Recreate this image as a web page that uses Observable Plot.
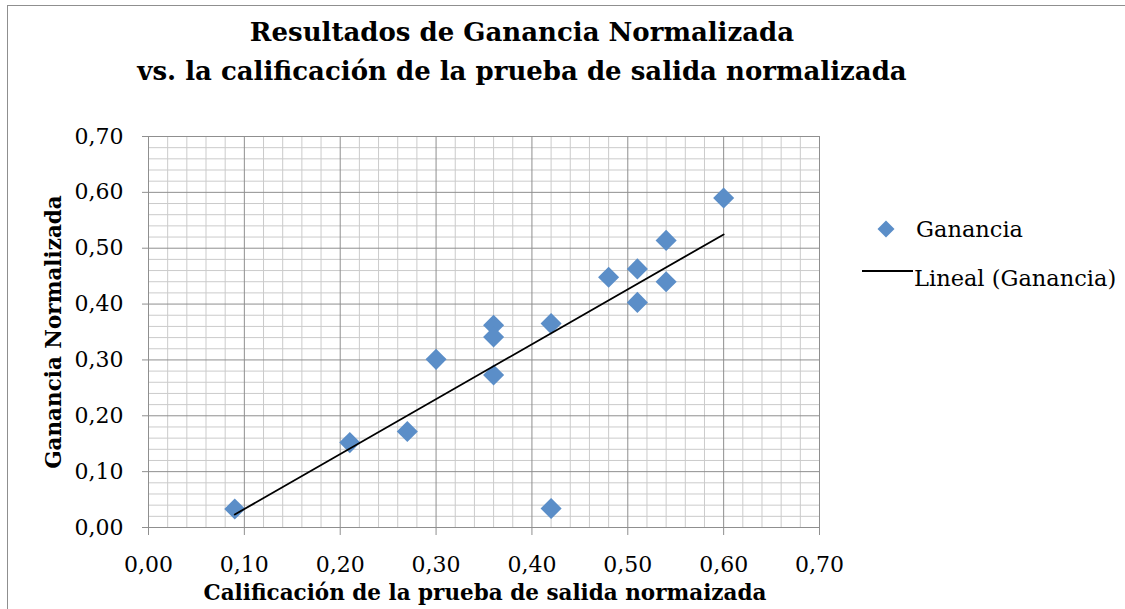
<!DOCTYPE html>
<html>
<head>
<meta charset="utf-8">
<script src="https://cdn.jsdelivr.net/npm/d3@7"></script>
<script src="https://cdn.jsdelivr.net/npm/@observablehq/plot@0.6"></script>
<style>
  body { margin: 0; background: #fff; }
  #chart { position: relative; width: 1125px; height: 609px; overflow: hidden; font-family: "DejaVu Serif", serif; color: #000; }
  #frame { position: absolute; left: 7px; top: 5px; width: 1300px; height: 800px; border-left: 1.5px solid #8f8f8f; border-top: 1.5px solid #8f8f8f; }
  #plot { position: absolute; left: 0; top: 0; }
  #title { position: absolute; left: 0; top: 13px; width: 1044px; text-align: center; font-weight: bold; font-size: 26px; line-height: 39px; }
  #ytitle { position: absolute; left: 53px; top: 332px; transform: translate(-50%, -50%) rotate(-90deg); white-space: nowrap; font-weight: bold; font-size: 21.5px; }
  #xtitle { position: absolute; left: 0; width: 970px; top: 581px; text-align: center; font-weight: bold; font-size: 21.5px; line-height: 24px; white-space: nowrap; }
  .leg { position: absolute; font-size: 22.5px; white-space: nowrap; line-height: 24px; }
</style>
</head>
<body>
<div id="chart">
  <div id="frame"></div>
  <div id="plot"></div>
  <div id="title">Resultados de Ganancia Normalizada<br>vs. la calificación de la prueba de salida normalizada</div>
  <div id="ytitle">Ganancia Normalizada</div>
  <div id="xtitle">Calificación de la prueba de salida normaizada</div>
  <svg class="leg" style="left:877px; top:220px;" width="18" height="18"><path d="M9,0.5 L17.5,9 L9,17.5 L0.5,9 Z" fill="#5b8ec8"/></svg>
  <div class="leg" style="left:916px; top:217px;">Ganancia</div>
  <svg class="leg" style="left:860px; top:266px;" width="54" height="10"><line x1="2" y1="5" x2="53" y2="5" stroke="#000" stroke-width="1.8"/></svg>
  <div class="leg" style="left:914px; top:266px;">Lineal (Ganancia)</div>
</div>
<script>
// Calificación de la prueba de salida normalizada
const califSalida = [0.09, 0.21, 0.27, 0.30, 0.36, 0.36, 0.36, 0.42, 0.42, 0.48, 0.51, 0.51, 0.54, 0.54, 0.60];
// Ganancia normalizada
const ganancia   = [0.033, 0.152, 0.172, 0.301, 0.362, 0.341, 0.273, 0.365, 0.034, 0.448, 0.463, 0.403, 0.514, 0.440, 0.590];
// Axis ticks
const tickValues = [0, 0.1, 0.2, 0.3, 0.4, 0.5, 0.6, 0.7];

const data = califSalida.map((x, i) => ({x, y: ganancia[i]}));
const minor = d3.range(0, 36).map(i => +(i * 0.02).toFixed(2)).filter(v => Math.round(v * 100) % 10 !== 0);
const fmt = d => d3.format(".2f")(d).replace(".", ",");

const chart = Plot.plot({
  width: 1125,
  height: 609,
  marginLeft: 148,
  marginRight: 306,
  marginTop: 136,
  marginBottom: 82,
  x: {domain: [0, 0.7]},
  y: {domain: [0, 0.7]},
  style: {fontFamily: "DejaVu Serif, serif", fontSize: "22px", background: "transparent", color: "#000"},
  marks: [
    Plot.gridX(minor, {stroke: "#cbcbcb", strokeOpacity: 1, strokeWidth: 1}),
    Plot.gridY(minor, {stroke: "#cbcbcb", strokeOpacity: 1, strokeWidth: 1}),
    Plot.gridX(tickValues, {stroke: "#8f8f8f", strokeOpacity: 1, strokeWidth: 1}),
    Plot.gridY(tickValues, {stroke: "#8f8f8f", strokeOpacity: 1, strokeWidth: 1}),
    Plot.axisX(tickValues, {tickSize: 8, tickPadding: 21, tickFormat: fmt, label: null, stroke: "#8f8f8f", fill: "#000", fontSize: 22}),
    Plot.axisY(tickValues, {tickSize: 6, tickPadding: 19, tickFormat: fmt, label: null, stroke: "#8f8f8f", fill: "#000", fontSize: 22}),
    Plot.dot(data, {x: "x", y: "y", symbol: "diamond2", r: 9.5, fill: "#5b8ec8", stroke: "none"}),
    Plot.linearRegressionY(data, {x: "x", y: "y", stroke: "#000", strokeWidth: 1.8, ci: 0})
  ]
});
document.getElementById("plot").appendChild(chart);
</script>
</body>
</html>
